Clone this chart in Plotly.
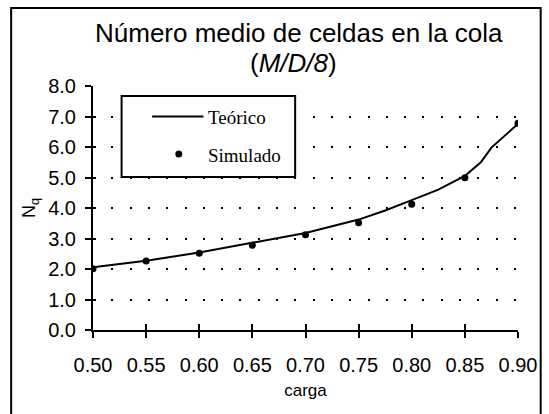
import plotly.graph_objects as go

# Carga del sistema y número medio de celdas en la cola (M/D/8)
carga_teorico = [0.50, 0.55, 0.60, 0.65, 0.70, 0.75, 0.775, 0.80, 0.825, 0.85, 0.865, 0.875, 0.90]
nq_teorico = [2.06, 2.27, 2.54, 2.85, 3.18, 3.62, 3.92, 4.26, 4.60, 5.05, 5.50, 5.98, 6.76]

carga_simulado = [0.50, 0.55, 0.60, 0.65, 0.70, 0.75, 0.80, 0.85, 0.90]
nq_simulado = [2.01, 2.26, 2.52, 2.78, 3.12, 3.52, 4.12, 4.99, 6.78]

x_ticks = [0.50, 0.55, 0.60, 0.65, 0.70, 0.75, 0.80, 0.85, 0.90]
x_tick_labels = ["0.50", "0.55", "0.60", "0.65", "0.70", "0.75", "0.80", "0.85", "0.90"]
y_ticks = [0, 1, 2, 3, 4, 5, 6, 7, 8]
y_tick_labels = ["0.0", "1.0", "2.0", "3.0", "4.0", "5.0", "6.0", "7.0", "8.0"]

W, H = 549, 414
ML, MR, MT, MB = 93, 25, 86, 84
PW, PH = W - ML - MR, H - MT - MB


def px(xp):
    """Horizontal page pixel -> paper coordinate."""
    return (xp - ML) / PW


def py(yp):
    """Vertical page pixel -> paper coordinate."""
    return (H - MB - yp) / PH


SANS = "Liberation Sans, Arial, sans-serif"
SERIF = "Liberation Serif, Times New Roman, serif"

fig = go.Figure()

fig.add_trace(go.Scatter(
    x=carga_teorico, y=nq_teorico, mode="lines", name="Teórico",
    line=dict(color="black", width=2), showlegend=False,
))
fig.add_trace(go.Scatter(
    x=carga_simulado, y=nq_simulado, mode="markers", name="Simulado",
    marker=dict(color="black", size=7), showlegend=False,
))
# invisible trace carrying the overlay axes used for the inner half of the ticks
fig.add_trace(go.Scatter(
    x=[0.5], y=[0], xaxis="x2", yaxis="y2", mode="markers",
    marker=dict(opacity=0), hoverinfo="skip", showlegend=False,
))

common_x = dict(range=[0.5, 0.9], tickvals=x_ticks, showgrid=False, zeroline=False)
common_y = dict(range=[0, 8], tickvals=y_ticks, zeroline=False)

fig.update_layout(
    width=W, height=H,
    margin=dict(l=ML, r=MR, t=MT, b=MB),
    paper_bgcolor="white", plot_bgcolor="white",
    font=dict(family=SANS, color="black"),
    xaxis=dict(
        **common_x,
        ticktext=x_tick_labels,
        showline=True, linecolor="black", linewidth=2,
        ticks="outside", ticklen=6, tickwidth=2, tickcolor="black",
        tickfont=dict(family=SANS, size=20, color="black"),
        ticklabelstandoff=10,
        title=dict(text="carga", font=dict(family=SANS, size=17, color="black"), standoff=9),
    ),
    yaxis=dict(
        **common_y,
        ticktext=y_tick_labels,
        showline=True, linecolor="black", linewidth=2,
        ticks="outside", ticklen=6, tickwidth=2, tickcolor="black",
        tickfont=dict(family=SANS, size=20, color="black"),
        ticklabelstandoff=5,
        showgrid=True, gridcolor="black", gridwidth=1.5, griddash="2px,16.3px",
        title=dict(text="N<sub>q</sub>", font=dict(family=SANS, size=18, color="black"), standoff=8),
    ),
    xaxis2=dict(
        **common_x, overlaying="x", anchor="y2", side="bottom",
        showline=False, showticklabels=False,
        ticks="inside", ticklen=6, tickwidth=2, tickcolor="black",
    ),
    yaxis2=dict(
        **common_y, overlaying="y", anchor="x2", side="left",
        showgrid=False, showline=False, showticklabels=False,
        ticks="inside", ticklen=3, tickwidth=2, tickcolor="black",
    ),
    showlegend=False,
)

# two-line chart title
fig.add_annotation(
    text="Número medio de celdas en la cola", xref="paper", yref="paper",
    x=px(302), y=py(50), xanchor="center", yanchor="bottom", showarrow=False,
    font=dict(family=SANS, size=26, color="black"),
)
fig.add_annotation(
    text="(<i>M/D/8</i>)", xref="paper", yref="paper",
    x=px(296), y=py(80), xanchor="center", yanchor="bottom", showarrow=False,
    font=dict(family=SANS, size=26, color="black"),
)

# outer chart frame
fig.add_shape(
    type="rect", xref="paper", yref="paper",
    x0=px(10), x1=px(547), y0=py(416), y1=py(8),
    line=dict(color="black", width=2), fillcolor="rgba(0,0,0,0)", layer="above",
)

# legend box with its two entries
fig.add_shape(
    type="rect", xref="paper", yref="paper",
    x0=px(122), x1=px(298), y0=py(177), y1=py(96),
    line=dict(color="black", width=2), fillcolor="white", layer="above",
)
fig.add_shape(
    type="line", xref="paper", yref="paper",
    x0=px(153), x1=px(205), y0=py(116.5), y1=py(116.5),
    line=dict(color="black", width=2), layer="above",
)
fig.add_shape(
    type="circle", xref="paper", yref="paper",
    x0=px(176.5), x1=px(183.5), y0=py(157.5), y1=py(150.5),
    line=dict(color="black", width=0), fillcolor="black", layer="above",
)
for label, yc in [("Teórico", 117), ("Simulado", 155)]:
    fig.add_annotation(
        text=label, xref="paper", yref="paper",
        x=px(208), y=py(yc), xanchor="left", yanchor="middle", showarrow=False,
        font=dict(family=SERIF, size=19, color="black"),
    )

fig.write_html("out.html")
